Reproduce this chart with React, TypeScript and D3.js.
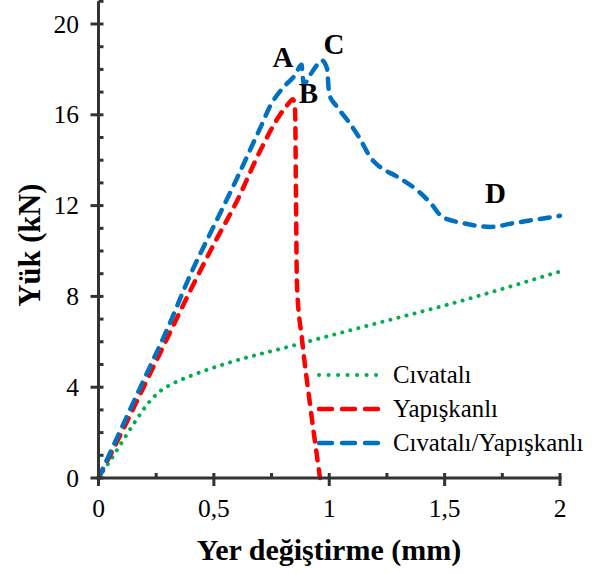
import React from "react";
import * as d3 from "d3";

const xMajorTicks = [0, 0.5, 1, 1.5, 2];
const xMinorTicks = [0.25, 0.75, 1.25, 1.75];
const yMajorTicks = [0, 4, 8, 12, 16, 20];
const yMinorTicks = [1, 2, 3, 5, 6, 7, 9, 10, 11, 13, 14, 15, 17, 18, 19, 21];

// Cıvatalı (bolted)
const civataliX = [0, 0.04, 0.1, 0.16, 0.22, 0.27, 0.32, 0.4, 0.54, 0.83, 1.26, 1.5, 2.0];
const civataliY = [0, 0.6, 1.55, 2.5, 3.35, 3.85, 4.15, 4.5, 5.0, 5.8, 6.96, 7.6, 9.1];

// Yapışkanlı (adhesive)
const yapiskanliX = [0, 0.1, 0.2, 0.3, 0.4, 0.5, 0.6, 0.7, 0.78, 0.82, 0.843, 0.852, 0.856, 0.86, 0.882, 0.916, 0.96];
const yapiskanliY = [0, 2.0, 4.1, 6.2, 8.3, 10.3, 12.2, 14.4, 15.9, 16.45, 16.68, 16.2, 12.2, 8.5, 6.1, 3.3, 0];

// Cıvatalı/Yapışkanlı (hybrid)
const hibritX = [0, 0.1, 0.2, 0.3, 0.4, 0.5, 0.6, 0.65, 0.7, 0.75, 0.8, 0.852, 0.88, 0.884, 0.89, 0.917, 0.94, 0.967, 0.99, 1.0, 1.03, 1.08, 1.13, 1.18, 1.22, 1.29, 1.39, 1.44, 1.49, 1.58, 1.7, 1.8, 2.0];
const hibritY = [0, 2.2, 4.4, 6.6, 9.0, 11.1, 13.2, 14.3, 15.4, 16.5, 17.2, 17.75, 18.2, 17.8, 17.35, 17.75, 18.1, 18.4, 18.05, 16.9, 16.4, 15.75, 15.0, 14.1, 13.7, 13.3, 12.6, 12.1, 11.5, 11.23, 11.06, 11.23, 11.55];

const legendLabels = ["Cıvatalı", "Yapışkanlı", "Cıvatalı/Yapışkanlı"];
const pointLabels = ["A", "B", "C", "D"];
const pointLabelX = [0.80, 0.91, 1.02, 1.72];
const pointLabelY = [18.1, 16.5, 18.7, 12.1];

const FONT = "'Liberation Serif', 'Times New Roman', serif";
const AXIS = "#333333";

export default function App() {
  const x = d3.scaleLinear().domain([0, 2]).range([98.5, 560]);
  const y = d3.scaleLinear().domain([0, 20]).range([478, 24]);

  const mk = (xs: number[], ys: number[]) =>
    d3
      .line<number>()
      .x((_, i) => x(xs[i]))
      .y((_, i) => y(ys[i]))
      .curve(d3.curveMonotoneX)(xs.map((_, i) => i)) || "";

  const series = [
    { d: mk(civataliX, civataliY), color: "#00B050", dash: "0.1 8.2", width: 4 },
    { d: mk(yapiskanliX, yapiskanliY), color: "#FF0000", dash: "10 9", width: 4.5 },
    { d: mk(hibritX, hibritY), color: "#0070C0", dash: "10 9", width: 4.5 },
  ];

  const legendY = [375, 409, 443];

  return (
    <svg width={594} height={574} style={{ position: "absolute", left: 0, top: 0, background: "#fff" }}>
      <rect width={594} height={574} fill="#fff" />
      {series.map((s, i) => (
        <path
          key={i}
          d={s.d}
          fill="none"
          stroke={s.color}
          strokeWidth={s.width}
          strokeDasharray={s.dash}
          strokeLinecap="round"
          strokeLinejoin="round"
        />
      ))}
      {/* axes */}
      <line x1={x(0)} x2={x(0)} y1={y(0)} y2={y(21)} stroke={AXIS} strokeWidth={3} />
      <line x1={x(0) - 1.5} x2={x(2) + 1.5} y1={y(0)} y2={y(0)} stroke={AXIS} strokeWidth={3} />
      {xMajorTicks.map((t) => (
        <line key={"xm" + t} x1={x(t)} x2={x(t)} y1={y(0) - 5} y2={y(0) + 8} stroke={AXIS} strokeWidth={3} />
      ))}
      {xMinorTicks.map((t) => (
        <line key={"xn" + t} x1={x(t)} x2={x(t)} y1={y(0) - 5} y2={y(0)} stroke={AXIS} strokeWidth={3} />
      ))}
      {yMajorTicks.map((t) => (
        <line key={"ym" + t} x1={x(0) - 8} x2={x(0) + 5} y1={y(t)} y2={y(t)} stroke={AXIS} strokeWidth={3} />
      ))}
      {yMinorTicks.map((t) => (
        <line key={"yn" + t} x1={x(0)} x2={x(0) + 5} y1={y(t)} y2={y(t)} stroke={AXIS} strokeWidth={3} />
      ))}
      {xMajorTicks.map((t) => (
        <text key={"xl" + t} x={x(t)} y={517} textAnchor="middle" fontFamily={FONT} fontSize={25.5} fill="#000">
          {String(t).replace(".", ",")}
        </text>
      ))}
      {yMajorTicks.map((t) => (
        <text key={"yl" + t} x={79} y={y(t) + 8.5} textAnchor="end" fontFamily={FONT} fontSize={25.5} fill="#000">
          {String(t)}
        </text>
      ))}
      <text x={329} y={560} textAnchor="middle" fontFamily={FONT} fontSize={30} fontWeight="bold" fill="#000">
        Yer değiştirme (mm)
      </text>
      <text
        transform="translate(40,245) rotate(-90)"
        textAnchor="middle"
        fontFamily={FONT}
        fontSize={30.5}
        fontWeight="bold"
        fill="#000"
      >
        Yük (kN)
      </text>
      {pointLabels.map((l, i) => (
        <text
          key={l}
          x={x(pointLabelX[i])}
          y={y(pointLabelY[i])}
          textAnchor="middle"
          fontFamily={FONT}
          fontSize={29}
          fontWeight="bold"
          fill="#000"
        >
          {l}
        </text>
      ))}
      {legendLabels.map((l, i) => (
        <g key={l}>
          <line
            x1={319}
            x2={385}
            y1={legendY[i]}
            y2={legendY[i]}
            stroke={series[i].color}
            strokeWidth={series[i].width}
            strokeDasharray={i === 0 ? "0.1 9.4" : "13 10"}
            strokeLinecap="round"
          />
          <text x={393} y={legendY[i] + 8} fontFamily={FONT} fontSize={24.8} fill="#000">
            {l}
          </text>
        </g>
      ))}
    </svg>
  );
}
